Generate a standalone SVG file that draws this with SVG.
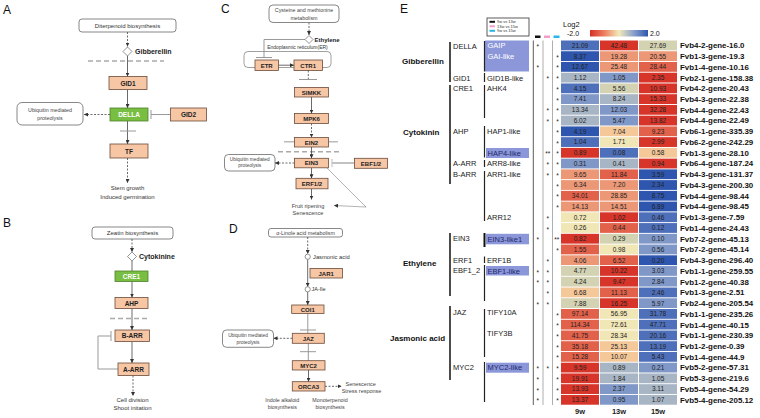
<svg xmlns="http://www.w3.org/2000/svg" width="760" height="418" viewBox="0 0 760 418">
<defs>
<marker id="ah" viewBox="0 0 6 6" refX="6" refY="3" markerWidth="4" markerHeight="4" markerUnits="userSpaceOnUse" orient="auto"><path d="M0,0 L6,3 L0,6 z" fill="#333"/></marker>
<linearGradient id="cb" x1="0" x2="1" y1="0" y2="0">
<stop offset="0" stop-color="#D62F27"/><stop offset="0.25" stop-color="#EE8060"/><stop offset="0.5" stop-color="#F2EABA"/><stop offset="0.75" stop-color="#8AA0CC"/><stop offset="1" stop-color="#2F55AD"/>
</linearGradient>
<style>
text{font-family:"Liberation Sans",Arial,sans-serif}
.pl{font-size:12px;fill:#111}
.box{fill:#F7C6A5;stroke:#6b4b3b;stroke-width:0.8}
.gbox{fill:#78BE42;stroke:#4f7f2c;stroke-width:0.8}
.rb{fill:#fff;stroke:#555;stroke-width:0.7}
.bl{font-size:6.5px;font-weight:bold;fill:#222;text-anchor:middle}
.wl{font-size:6.5px;font-weight:bold;fill:#fff;text-anchor:middle}
.sm{font-size:6px;fill:#333;text-anchor:middle}
.xs{font-size:5.3px;fill:#444;text-anchor:middle}
.hb{font-size:7px;font-weight:bold;fill:#222}
.ln{stroke:#444;stroke-width:0.8;fill:none}
.dl{stroke:#444;stroke-width:0.8;fill:none;stroke-dasharray:2,1.5}
.gy{stroke:#999;stroke-width:1;fill:none}
.gd{stroke:#aaa;stroke-width:1.6;fill:none;stroke-dasharray:5,3}
.dm{fill:#fff;stroke:#666;stroke-width:0.7}
.r3{fill:#D73529}.r2{fill:#E2614A}.r1{fill:#EC9877}.o{fill:#F4C899}.y{fill:#F1E6B6}.g{fill:#D3D2B3}.gb{fill:#A8B5C4}.lb{fill:#8098C8}.b{fill:#4E6FB9}.b2{fill:#2F56AE}
.v{font-size:6.5px;fill:#222;text-anchor:middle}
.s{font-size:6.5px;fill:#222;text-anchor:middle}
.gn{font-size:7.9px;font-weight:bold;fill:#111}
.cat{font-size:8px;font-weight:bold;fill:#111}
.l2{font-size:7.5px;fill:#222}
.l3{font-size:7.5px;fill:#222}
.hl{fill:#8C97DA}
.br{stroke:#111;stroke-width:1.5}
.br3{stroke:#222;stroke-width:1.2}
</style>
</defs>

<!-- Panel labels -->
<text class="pl" x="3" y="14">A</text>
<text class="pl" x="3" y="227">B</text>
<text class="pl" x="221" y="13">C</text>
<text class="pl" x="229" y="233">D</text>
<text class="pl" x="400" y="13">E</text>

<g id="connectors">
<!-- A -->
<line class="dl" x1="127.5" y1="32" x2="127.5" y2="46.5" marker-end="url(#ah)"/>
<line class="gd" x1="88" y1="61" x2="164" y2="61"/>
<line class="ln" x1="127.5" y1="56" x2="127.5" y2="76.5" marker-end="url(#ah)"/>
<line class="ln" x1="127.5" y1="89.5" x2="127.5" y2="108" marker-end="url(#ah)"/>
<line class="gy" x1="170.5" y1="114.5" x2="151" y2="114.5"/>
<line class="gy" x1="151" y1="110" x2="151" y2="119"/>
<line class="dl" x1="110" y1="114.5" x2="84" y2="114.5" marker-end="url(#ah)"/>
<line class="ln" x1="127.5" y1="121" x2="127.5" y2="144" marker-end="url(#ah)"/>
<line class="gy" x1="120" y1="131" x2="136" y2="131"/>
<line class="dl" x1="127.5" y1="158" x2="127.5" y2="183" marker-end="url(#ah)"/>
<!-- B -->
<line class="dl" x1="132" y1="239" x2="132" y2="252" marker-end="url(#ah)"/>
<line class="ln" x1="132" y1="261" x2="132" y2="271"/>
<line class="ln" x1="132" y1="281.5" x2="132" y2="297.5" marker-end="url(#ah)"/>
<line class="gd" x1="110" y1="318.5" x2="147" y2="318.5"/>
<line class="ln" x1="132" y1="308.5" x2="132" y2="330" marker-end="url(#ah)"/>
<line class="ln" x1="132" y1="341.5" x2="132" y2="363" marker-end="url(#ah)"/>
<polyline class="gy" points="118,369 98,369 98,336 111,336"/>
<line class="gy" x1="111" y1="331" x2="111" y2="341"/>
<line class="dl" x1="133" y1="375.5" x2="133" y2="396" marker-end="url(#ah)"/>
<!-- C -->
<line class="dl" x1="309" y1="22.5" x2="309" y2="35" marker-end="url(#ah)"/>
<polyline class="gy" points="305,39.5 264,39.5 264,57.5"/>
<line class="gy" x1="256" y1="57.5" x2="272" y2="57.5"/>
<rect x="244" y="51.5" width="87" height="16" rx="4" fill="none" stroke="#888" stroke-width="0.8"/>
<line class="ln" x1="278.5" y1="65.2" x2="294" y2="65.2" marker-end="url(#ah)"/>
<line class="dl" x1="308.3" y1="70.5" x2="308.3" y2="79.5"/>
<line class="gy" x1="299" y1="79.5" x2="317" y2="79.5"/>
<line class="ln" x1="311.5" y1="97" x2="311.5" y2="113.5" marker-end="url(#ah)"/>
<line x1="284" y1="141.8" x2="338" y2="141.8" stroke="#bbb" stroke-width="1.5"/>
<line class="dl" x1="311.5" y1="123.5" x2="311.5" y2="137.5" marker-end="url(#ah)"/>
<line class="gd" x1="278" y1="151.8" x2="342" y2="151.8"/>
<line class="ln" x1="311.5" y1="147" x2="311.5" y2="158.3" marker-end="url(#ah)"/>
<line class="dl" x1="294.5" y1="163" x2="275" y2="163" marker-end="url(#ah)"/>
<line x1="354.5" y1="163" x2="332" y2="163" stroke="#bbb" stroke-width="1.8"/>
<line x1="332" y1="159" x2="332" y2="167" stroke="#bbb" stroke-width="1"/>
<polyline points="327,168 366,207" fill="none" stroke="#666" stroke-width="0.5"/>
<line x1="366" y1="207" x2="334" y2="205.5" stroke="#666" stroke-width="0.5" marker-end="url(#ah)"/>
<line class="ln" x1="311.5" y1="167.8" x2="311.5" y2="178.3" marker-end="url(#ah)"/>
<line class="ln" x1="311.5" y1="189" x2="311.5" y2="199.5" marker-end="url(#ah)"/>
<!-- D -->
<line class="dl" x1="307.7" y1="237" x2="307.7" y2="254" marker-end="url(#ah)"/>
<line class="ln" x1="307.7" y1="259.3" x2="307.7" y2="286.7" marker-end="url(#ah)"/>
<line class="ln" x1="307.7" y1="292" x2="307.7" y2="305" marker-end="url(#ah)"/>
<line class="gy" x1="307.8" y1="313.5" x2="307.8" y2="333.3"/>
<line class="gy" x1="300" y1="330" x2="316" y2="330"/>
<line class="dl" x1="292.3" y1="338.3" x2="273.5" y2="338.3" marker-end="url(#ah)"/>
<line class="gy" x1="308.3" y1="343.3" x2="308.3" y2="360.7"/>
<line class="gy" x1="300" y1="351.7" x2="316" y2="351.7"/>
<line class="ln" x1="308.5" y1="370" x2="308.5" y2="381.7" marker-end="url(#ah)"/>
<line class="dl" x1="325" y1="386.3" x2="341.5" y2="386.3" marker-end="url(#ah)"/>
</g>

<!-- Panel A nodes -->
<g id="a-diterpenoid"><rect class="rb" x="79" y="19" width="97" height="13" rx="3"/><text class="sm" x="127.5" y="27.8">Diterpenoid biosynthesis</text></g>
<g id="a-gibberellin"><polygon class="dm" points="127.5,47 132,51.5 127.5,56 123,51.5"/><text class="hb" x="135" y="54">Gibberellin</text></g>
<g id="a-gid1"><rect class="box" x="109" y="76.5" width="38" height="13"/><text class="bl" x="128" y="85.5">GID1</text></g>
<g id="a-della"><rect class="gbox" x="110" y="108" width="38" height="13"/><text class="wl" x="129" y="117">DELLA</text></g>
<g id="a-gid2"><rect class="box" x="170.5" y="108" width="36" height="13"/><text class="bl" x="188.5" y="117">GID2</text></g>
<g id="a-ubiq"><rect class="rb" x="17" y="102.5" width="66" height="22.5" rx="5"/><text class="xs" x="50" y="112">Ubiquitin mediated</text><text class="xs" x="50" y="120">proteolysis</text></g>
<g id="a-tf"><rect class="box" x="110" y="144" width="38" height="14"/><text class="bl" x="129" y="153.5">TF</text></g>
<g id="a-out"><text class="sm" x="127.5" y="190">Stem growth</text><text class="sm" x="127.5" y="199">Induced germination</text></g>

<!-- Panel B nodes -->
<g id="b-zeatin"><rect class="rb" x="92" y="227" width="81" height="12" rx="3"/><text class="sm" x="132.5" y="235.3">Zeatin biosynthesis</text></g>
<g id="b-cytokinine"><polygon class="dm" points="132,252 136.5,256.5 132,261 127.5,256.5"/><text class="hb" x="139" y="259">Cytokinine</text></g>
<g id="b-cre1"><rect class="gbox" x="115" y="271" width="33" height="10.5"/><text class="wl" x="131.5" y="278.8">CRE1</text></g>
<g id="b-ahp"><rect class="box" x="115" y="297.5" width="33" height="11"/><text class="bl" x="131.5" y="305.5">AHP</text></g>
<g id="b-barr"><rect class="box" x="115" y="330" width="34.5" height="11.5"/><text class="bl" x="132.2" y="338.3">B-ARR</text></g>
<g id="b-aarr"><rect class="box" x="118" y="363" width="31" height="12.5"/><text class="bl" x="133.5" y="371.8">A-ARR</text></g>
<g id="b-out"><text class="sm" x="132.5" y="402">Cell division</text><text class="sm" x="132.5" y="410">Shoot initation</text></g>

<!-- Panel C nodes -->
<g id="c-cys"><rect class="rb" x="269" y="5" width="70" height="17.5" rx="4"/><text class="xs" x="304" y="12">Cysteine and methionine</text><text class="xs" x="304" y="19.5">metabolism</text></g>
<g id="c-ethylene"><polygon class="dm" points="309,35.5 313,39.5 309,43.5 305,39.5"/><text x="314.5" y="42" style="font-size:6px;font-weight:bold;fill:#222">Ethylene</text></g>
<text x="297.5" y="48.5" style="font-size:5px;fill:#333;text-anchor:middle">Endoplasmic reticulum(ER)</text>
<g id="c-etr"><rect class="box" x="255" y="60" width="23.5" height="10.5"/><text class="bl" x="266.7" y="67.8" style="font-size:6px">ETR</text></g>
<g id="c-ctr1"><rect class="box" x="294" y="60" width="28.5" height="10.5"/><text class="bl" x="308.2" y="67.8" style="font-size:6px">CTR1</text></g>
<g id="c-simkk"><rect class="box" x="294.5" y="87.5" width="34" height="9.5"/><text class="bl" x="311.5" y="94.5" style="font-size:6px">SIMKK</text></g>
<g id="c-mpk6"><rect class="box" x="294.5" y="113.5" width="34" height="10"/><text class="bl" x="311.5" y="121" style="font-size:6px">MPK6</text></g>
<g id="c-ein2"><rect class="box" x="294.5" y="137.5" width="34" height="9.5"/><text class="bl" x="311.5" y="144.5" style="font-size:6px">EIN2</text></g>
<g id="c-ein3"><rect class="box" x="294.5" y="158.3" width="34" height="9.5"/><text class="bl" x="311.5" y="165.3" style="font-size:6px">EIN3</text></g>
<g id="c-ubiq"><rect class="rb" x="224.5" y="154.5" width="50.5" height="16.5" rx="4"/><text class="xs" x="249.7" y="160.8" style="font-size:4.8px">Ubiquitin mediated</text><text class="xs" x="249.7" y="167.3" style="font-size:4.8px">proteolysis</text></g>
<g id="c-ebf"><rect class="box" x="354.5" y="158.3" width="33" height="10"/><text class="bl" x="371" y="165.5" style="font-size:6px">EBF1/2</text></g>
<g id="c-erf"><rect class="box" x="296" y="178.3" width="32" height="10.5"/><text class="bl" x="312" y="186" style="font-size:6px">ERF1/2</text></g>
<g id="c-out"><text class="xs" x="308" y="207.5" style="font-size:5.6px">Fruit ripening</text><text class="xs" x="308" y="214.5" style="font-size:5.6px">Senescence</text></g>

<!-- Panel D nodes -->
<g id="d-linole"><rect class="rb" x="268.5" y="228.5" width="74" height="8.5" rx="2.5"/><text class="xs" x="305.5" y="234.9">α-Linole acid metabolism</text></g>
<g id="d-ja"><circle class="dm" cx="307.7" cy="256.7" r="2.6"/><text x="313" y="258.8" style="font-size:5.8px;fill:#333">Jasmonic acid</text></g>
<g id="d-jar1"><rect class="box" x="310" y="268.5" width="32.5" height="9.5"/><text class="bl" x="326.2" y="275.5" style="font-size:6px">JAR1</text></g>
<g id="d-jaile"><circle class="dm" cx="307.7" cy="289.3" r="2.6"/><text x="311.5" y="291.3" style="font-size:5.5px;fill:#333">JA-Ile</text></g>
<g id="d-coi1"><rect class="box" x="291.7" y="305" width="32.3" height="8.5"/><text class="bl" x="307.8" y="311.5" style="font-size:6px">COI1</text></g>
<g id="d-jaz"><rect class="box" x="292.3" y="333.3" width="32" height="10"/><text class="bl" x="308.3" y="340.5" style="font-size:6px">JAZ</text></g>
<g id="d-ubiq"><rect class="rb" x="222.5" y="330" width="51" height="17.3" rx="4"/><text class="xs" x="248" y="336.8" style="font-size:4.8px">Ubiquitin mediated</text><text class="xs" x="248" y="343.5" style="font-size:4.8px">proteolysis</text></g>
<g id="d-myc2"><rect class="box" x="292.3" y="360.7" width="32.7" height="9.3"/><text class="bl" x="308.6" y="367.6" style="font-size:6px">MYC2</text></g>
<g id="d-orca3"><rect class="box" x="292.3" y="381.7" width="32.7" height="9.3"/><text class="bl" x="308.6" y="388.6" style="font-size:6px">ORCA3</text></g>
<g id="d-out"><text x="345.5" y="386" style="font-size:5.5px;fill:#444">Senescence</text><text x="341.7" y="393" style="font-size:5.5px;fill:#444">Stress response</text>
<text class="xs" x="282.3" y="402">Indole alkaloid</text><text class="xs" x="282.3" y="409.3">biosynthesis</text>
<text class="xs" x="330" y="402">Monoterpenoid</text><text class="xs" x="330" y="409.3">biosynthesis</text></g>

<!-- Panel E -->
<g id="e-legend">
<rect x="487" y="18" width="42" height="18" fill="#fff" stroke="#333" stroke-width="0.8"/>
<rect x="489.5" y="20.8" width="5.5" height="2" fill="#111"/><text x="497" y="23" style="font-size:4px;fill:#333">9w vs 13w</text>
<rect x="489.5" y="25.3" width="5.5" height="2" fill="#F0A0C8"/><text x="497" y="27.5" style="font-size:4px;fill:#333">13w vs 15w</text>
<rect x="489.5" y="29.8" width="5.5" height="2" fill="#29B6E8"/><text x="497" y="32" style="font-size:4px;fill:#333">9w vs 15w</text>
<rect x="535" y="35.5" width="5.5" height="2.5" fill="#111"/>
<rect x="544" y="35.5" width="6" height="2.5" fill="#F0A0C8"/>
<rect x="553.5" y="35.5" width="6" height="2.5" fill="#29B6E8"/>
<text x="563" y="27" style="font-size:7.5px;fill:#111">Log2</text>
<text x="567" y="35.8" style="font-size:7px;fill:#111">-2.0</text>
<rect x="590" y="30" width="58" height="6.5" fill="url(#cb)"/>
<text x="650" y="35.8" style="font-size:7px;fill:#111">2.0</text>
</g>

<g id="e-tree">
<text class="cat" x="402" y="64">Gibberellin</text>
<text class="cat" x="403" y="135">Cytokinin</text>
<text class="cat" x="403" y="265.5">Ethylene</text>
<text class="cat" x="390" y="341">Jasmonic acid</text>
<line class="br" x1="450" y1="42" x2="450" y2="82"/>
<line class="br" x1="450" y1="85" x2="450" y2="184"/>
<line class="br" x1="450" y1="233" x2="450" y2="296"/>
<line class="br" x1="450" y1="306" x2="450" y2="380"/>
<text class="l2" x="453" y="48.5">DELLA</text>
<text class="l2" x="453" y="80.7">GID1</text>
<text class="l2" x="453" y="91.4">CRE1</text>
<text class="l2" x="453" y="134">AHP</text>
<text class="l2" x="453" y="166.1">A-ARR</text>
<text class="l2" x="453" y="176.9">B-ARR</text>
<text class="l2" x="453" y="241.4">EIN3</text>
<text class="l2" x="453" y="262.9">ERF1</text>
<text class="l2" x="453" y="272.5">EBF1_2</text>
<text class="l2" x="453" y="314.5">JAZ</text>
<text class="l2" x="453" y="370.4">MYC2</text>
<rect class="hl" x="485" y="40.5" width="44" height="31"/>
<rect class="hl" x="486" y="148" width="43" height="10"/>
<rect class="hl" x="486" y="233.8" width="43" height="10.5"/>
<rect class="hl" x="486" y="266" width="43" height="9.5"/>
<rect class="hl" x="486" y="362.7" width="43" height="10"/>
<line class="br3" x1="484.5" y1="41" x2="484.5" y2="71.5"/>
<line class="br3" x1="484.5" y1="73" x2="484.5" y2="82"/>
<line class="br3" x1="484.5" y1="85" x2="484.5" y2="118"/>
<line class="br3" x1="484.5" y1="126" x2="484.5" y2="157.5"/>
<line class="br3" x1="484.5" y1="160" x2="484.5" y2="167"/>
<line class="br3" x1="484.5" y1="171" x2="484.5" y2="221"/>
<line x1="484.5" y1="233" x2="484.5" y2="247" stroke="#111" stroke-width="2"/>
<line class="br3" x1="484.5" y1="256.5" x2="484.5" y2="263"/>
<line class="br3" x1="484.5" y1="265" x2="484.5" y2="301"/>
<line class="br3" x1="484.5" y1="309" x2="484.5" y2="357"/>
<line class="br3" x1="484.5" y1="362" x2="484.5" y2="402"/>
<text class="l3" x="487.5" y="48.3" style="fill:#fff">GAIP</text>
<text class="l3" x="487.5" y="59.3" style="fill:#fff">GAI-like</text>
<text class="l3" x="487" y="80.7">GID1B-like</text>
<text class="l3" x="487" y="91.4">AHK4</text>
<text class="l3" x="487" y="134">HAP1-like</text>
<text class="l3" x="487.5" y="155.5" style="fill:#22286a">HAP4-like</text>
<text class="l3" x="487" y="166.1">ARR8-like</text>
<text class="l3" x="487" y="176.9">ARR1-like</text>
<text class="l3" x="487" y="219.9">ARR12</text>
<text class="l3" x="487.5" y="241.6" style="fill:#22286a">EIN3-like1</text>
<text class="l3" x="487" y="262.9">ERF1B</text>
<text class="l3" x="487.5" y="273.5" style="fill:#22286a">EBF1-like</text>
<text class="l3" x="487" y="314.5">TIFY10A</text>
<text class="l3" x="487" y="335.9">TIFY3B</text>
<text class="l3" x="487.5" y="370.4" style="fill:#22286a">MYC2-like</text>
<line x1="533.3" y1="40.5" x2="533.3" y2="405" stroke="#333" stroke-width="0.8"/>
<line x1="543" y1="40.5" x2="543" y2="405" stroke="#999" stroke-width="0.8"/>
<line x1="552.5" y1="40.5" x2="552.5" y2="405" stroke="#999" stroke-width="0.8"/>
</g>

<g id="e-heatmap">
<g transform="translate(0,40.5)"><rect x="561" width="38" height="9.8" class="b"/><rect x="600" width="38" height="9.8" class="r3"/><rect x="639" width="38" height="9.8" class="g"/><text class="v" x="580" y="7.3">21.09</text><text class="v" x="619" y="7.3">42.48</text><text class="v" x="658" y="7.3">27.69</text><text class="s" x="537.8" y="8.5">*</text><text class="gn" x="680" y="7.8">Fvb4-2-gene-16.0</text></g>
<g transform="translate(0,51.24)"><rect x="561" width="38" height="9.8" class="b2"/><rect x="600" width="38" height="9.8" class="r1"/><rect x="639" width="38" height="9.8" class="r1"/><text class="v" x="580" y="7.3">8.37</text><text class="v" x="619" y="7.3">19.28</text><text class="v" x="658" y="7.3">20.55</text><text class="s" x="557.5" y="8.5">*</text><text class="gn" x="680" y="7.8">Fvb1-3-gene-19.3</text></g>
<g transform="translate(0,61.98)"><rect x="561" width="38" height="9.8" class="b2"/><rect x="600" width="38" height="9.8" class="r1"/><rect x="639" width="38" height="9.8" class="r2"/><text class="v" x="580" y="7.3">12.67</text><text class="v" x="619" y="7.3">25.48</text><text class="v" x="658" y="7.3">28.44</text><text class="s" x="537.8" y="8.5">*</text><text class="s" x="557.5" y="8.5">*</text><text class="gn" x="680" y="7.8">Fvb1-4-gene-10.16</text></g>
<g transform="translate(0,72.72)"><rect x="561" width="38" height="9.8" class="gb"/><rect x="600" width="38" height="9.8" class="lb"/><rect x="639" width="38" height="9.8" class="r3"/><text class="v" x="580" y="7.3">1.12</text><text class="v" x="619" y="7.3">1.05</text><text class="v" x="658" y="7.3">2.35</text><text class="s" x="547.8" y="8.5">*</text><text class="s" x="557.5" y="8.5">*</text><text class="gn" x="680" y="7.8">Fvb2-1-gene-158.38</text></g>
<g transform="translate(0,83.46)"><rect x="561" width="38" height="9.8" class="b"/><rect x="600" width="38" height="9.8" class="g"/><rect x="639" width="38" height="9.8" class="r3"/><text class="v" x="580" y="7.3">4.15</text><text class="v" x="619" y="7.3">5.56</text><text class="v" x="658" y="7.3">10.93</text><text class="s" x="557.5" y="8.5">*</text><text class="gn" x="680" y="7.8">Fvb4-2-gene-20.43</text></g>
<g transform="translate(0,94.2)"><rect x="561" width="38" height="9.8" class="lb"/><rect x="600" width="38" height="9.8" class="gb"/><rect x="639" width="38" height="9.8" class="r3"/><text class="v" x="580" y="7.3">7.41</text><text class="v" x="619" y="7.3">8.24</text><text class="v" x="658" y="7.3">15.33</text><text class="s" x="557.5" y="8.5">*</text><text class="gn" x="680" y="7.8">Fvb4-3-gene-22.38</text></g>
<g transform="translate(0,104.94)"><rect x="561" width="38" height="9.8" class="gb"/><rect x="600" width="38" height="9.8" class="lb"/><rect x="639" width="38" height="9.8" class="r3"/><text class="v" x="580" y="7.3">13.34</text><text class="v" x="619" y="7.3">12.03</text><text class="v" x="658" y="7.3">32.28</text><text class="s" x="547.8" y="8.5">*</text><text class="s" x="557.5" y="8.5">*</text><text class="gn" x="680" y="7.8">Fvb4-4-gene-22.43</text></g>
<g transform="translate(0,115.68)"><rect x="561" width="38" height="9.8" class="gb"/><rect x="600" width="38" height="9.8" class="lb"/><rect x="639" width="38" height="9.8" class="r3"/><text class="v" x="580" y="7.3">6.02</text><text class="v" x="619" y="7.3">5.47</text><text class="v" x="658" y="7.3">13.82</text><text class="s" x="547.8" y="8.5">*</text><text class="s" x="557.5" y="8.5">*</text><text class="gn" x="680" y="7.8">Fvb4-4-gene-22.49</text></g>
<g transform="translate(0,126.42)"><rect x="561" width="38" height="9.8" class="b2"/><rect x="600" width="38" height="9.8" class="o"/><rect x="639" width="38" height="9.8" class="r2"/><text class="v" x="580" y="7.3">4.19</text><text class="v" x="619" y="7.3">7.04</text><text class="v" x="658" y="7.3">9.23</text><text class="s" x="557.5" y="8.5">*</text><text class="gn" x="680" y="7.8">Fvb6-1-gene-335.39</text></g>
<g transform="translate(0,137.16)"><rect x="561" width="38" height="9.8" class="b"/><rect x="600" width="38" height="9.8" class="y"/><rect x="639" width="38" height="9.8" class="r3"/><text class="v" x="580" y="7.3">1.04</text><text class="v" x="619" y="7.3">1.71</text><text class="v" x="658" y="7.3">2.99</text><text class="s" x="557.5" y="8.5">*</text><text class="gn" x="680" y="7.8">Fvb6-2-gene-242.29</text></g>
<g transform="translate(0,147.9)"><rect x="561" width="38" height="9.8" class="r3"/><rect x="600" width="38" height="9.8" class="b"/><rect x="639" width="38" height="9.8" class="o"/><text class="v" x="580" y="7.3">0.89</text><text class="v" x="619" y="7.3">0.08</text><text class="v" x="658" y="7.3">0.58</text><text class="s" x="547.8" y="8.5">**</text><text class="s" x="557.5" y="8.5">*</text><text class="gn" x="680" y="7.8">Fvb1-3-gene-28.10</text></g>
<g transform="translate(0,158.64)"><rect x="561" width="38" height="9.8" class="lb"/><rect x="600" width="38" height="9.8" class="gb"/><rect x="639" width="38" height="9.8" class="r3"/><text class="v" x="580" y="7.3">0.31</text><text class="v" x="619" y="7.3">0.41</text><text class="v" x="658" y="7.3">0.94</text><text class="s" x="547.8" y="8.5">*</text><text class="s" x="557.5" y="8.5">*</text><text class="gn" x="680" y="7.8">Fvb6-4-gene-187.24</text></g>
<g transform="translate(0,169.38)"><rect x="561" width="38" height="9.8" class="r1"/><rect x="600" width="38" height="9.8" class="r2"/><rect x="639" width="38" height="9.8" class="b2"/><text class="v" x="580" y="7.3">9.65</text><text class="v" x="619" y="7.3">11.84</text><text class="v" x="658" y="7.3">3.59</text><text class="s" x="547.8" y="8.5">*</text><text class="s" x="557.5" y="8.5">*</text><text class="gn" x="680" y="7.8">Fvb4-3-gene-131.37</text></g>
<g transform="translate(0,180.12)"><rect x="561" width="38" height="9.8" class="r1"/><rect x="600" width="38" height="9.8" class="r1"/><rect x="639" width="38" height="9.8" class="b2"/><text class="v" x="580" y="7.3">6.34</text><text class="v" x="619" y="7.3">7.20</text><text class="v" x="658" y="7.3">2.34</text><text class="s" x="557.5" y="8.5">*</text><text class="gn" x="680" y="7.8">Fvb4-3-gene-200.30</text></g>
<g transform="translate(0,190.86)"><rect x="561" width="38" height="9.8" class="r2"/><rect x="600" width="38" height="9.8" class="r1"/><rect x="639" width="38" height="9.8" class="b2"/><text class="v" x="580" y="7.3">34.01</text><text class="v" x="619" y="7.3">28.85</text><text class="v" x="658" y="7.3">8.75</text><text class="s" x="557.5" y="8.5">*</text><text class="gn" x="680" y="7.8">Fvb4-4-gene-98.44</text></g>
<g transform="translate(0,201.6)"><rect x="561" width="38" height="9.8" class="r1"/><rect x="600" width="38" height="9.8" class="r1"/><rect x="639" width="38" height="9.8" class="b2"/><text class="v" x="580" y="7.3">14.13</text><text class="v" x="619" y="7.3">14.51</text><text class="v" x="658" y="7.3">6.89</text><text class="s" x="557.5" y="8.5">*</text><text class="gn" x="680" y="7.8">Fvb4-4-gene-98.45</text></g>
<g transform="translate(0,212.34)"><rect x="561" width="38" height="9.8" class="y"/><rect x="600" width="38" height="9.8" class="r3"/><rect x="639" width="38" height="9.8" class="b"/><text class="v" x="580" y="7.3">0.72</text><text class="v" x="619" y="7.3">1.02</text><text class="v" x="658" y="7.3">0.46</text><text class="s" x="547.8" y="8.5">*</text><text class="gn" x="680" y="7.8">Fvb1-3-gene-7.59</text></g>
<g transform="translate(0,223.08)"><rect x="561" width="38" height="9.8" class="y"/><rect x="600" width="38" height="9.8" class="r2"/><rect x="639" width="38" height="9.8" class="b"/><text class="v" x="580" y="7.3">0.26</text><text class="v" x="619" y="7.3">0.44</text><text class="v" x="658" y="7.3">0.12</text><text class="s" x="547.8" y="8.5">*</text><text class="gn" x="680" y="7.8">Fvb1-4-gene-24.43</text></g>
<g transform="translate(0,233.82)"><rect x="561" width="38" height="9.8" class="r3"/><rect x="600" width="38" height="9.8" class="g"/><rect x="639" width="38" height="9.8" class="lb"/><text class="v" x="580" y="7.3">0.82</text><text class="v" x="619" y="7.3">0.29</text><text class="v" x="658" y="7.3">0.10</text><text class="s" x="537.8" y="8.5">*</text><text class="s" x="556.8" y="8.5">**</text><text class="gn" x="680" y="7.8">Fvb7-2-gene-45.13</text></g>
<g transform="translate(0,244.56)"><rect x="561" width="38" height="9.8" class="r2"/><rect x="600" width="38" height="9.8" class="y"/><rect x="639" width="38" height="9.8" class="lb"/><text class="v" x="580" y="7.3">1.55</text><text class="v" x="619" y="7.3">0.98</text><text class="v" x="658" y="7.3">0.56</text><text class="s" x="557.5" y="8.5">*</text><text class="gn" x="680" y="7.8">Fvb7-2-gene-45.14</text></g>
<g transform="translate(0,255.3)"><rect x="561" width="38" height="9.8" class="r1"/><rect x="600" width="38" height="9.8" class="r2"/><rect x="639" width="38" height="9.8" class="b2"/><text class="v" x="580" y="7.3">4.06</text><text class="v" x="619" y="7.3">6.52</text><text class="v" x="658" y="7.3">0.20</text><text class="s" x="547.8" y="8.5">*</text><text class="gn" x="680" y="7.8">Fvb4-3-gene-296.40</text></g>
<g transform="translate(0,266.04)"><rect x="561" width="38" height="9.8" class="g"/><rect x="600" width="38" height="9.8" class="r3"/><rect x="639" width="38" height="9.8" class="lb"/><text class="v" x="580" y="7.3">4.77</text><text class="v" x="619" y="7.3">10.22</text><text class="v" x="658" y="7.3">3.03</text><text class="s" x="537.8" y="8.5">*</text><text class="s" x="547.8" y="8.5">*</text><text class="gn" x="680" y="7.8">Fvb1-1-gene-259.55</text></g>
<g transform="translate(0,276.78)"><rect x="561" width="38" height="9.8" class="g"/><rect x="600" width="38" height="9.8" class="r3"/><rect x="639" width="38" height="9.8" class="lb"/><text class="v" x="580" y="7.3">4.24</text><text class="v" x="619" y="7.3">9.47</text><text class="v" x="658" y="7.3">2.84</text><text class="s" x="537.8" y="8.5">*</text><text class="s" x="547.8" y="8.5">*</text><text class="gn" x="680" y="7.8">Fvb1-2-gene-40.38</text></g>
<g transform="translate(0,287.52)"><rect x="561" width="38" height="9.8" class="o"/><rect x="600" width="38" height="9.8" class="r2"/><rect x="639" width="38" height="9.8" class="b"/><text class="v" x="580" y="7.3">6.68</text><text class="v" x="619" y="7.3">11.13</text><text class="v" x="658" y="7.3">2.46</text><text class="s" x="547.8" y="8.5">*</text><text class="gn" x="680" y="7.8">Fvb1-3-gene-2.51</text></g>
<g transform="translate(0,298.26)"><rect x="561" width="38" height="9.8" class="g"/><rect x="600" width="38" height="9.8" class="r3"/><rect x="639" width="38" height="9.8" class="lb"/><text class="v" x="580" y="7.3">7.88</text><text class="v" x="619" y="7.3">16.25</text><text class="v" x="658" y="7.3">5.97</text><text class="s" x="537.8" y="8.5">*</text><text class="s" x="547.8" y="8.5">*</text><text class="gn" x="680" y="7.8">Fvb2-4-gene-205.54</text></g>
<g transform="translate(0,309)"><rect x="561" width="38" height="9.8" class="r2"/><rect x="600" width="38" height="9.8" class="y"/><rect x="639" width="38" height="9.8" class="b"/><text class="v" x="580" y="7.3">97.14</text><text class="v" x="619" y="7.3">56.95</text><text class="v" x="658" y="7.3">31.78</text><text class="s" x="557.5" y="8.5">*</text><text class="gn" x="680" y="7.8">Fvb1-1-gene-235.26</text></g>
<g transform="translate(0,319.74)"><rect x="561" width="38" height="9.8" class="r2"/><rect x="600" width="38" height="9.8" class="y"/><rect x="639" width="38" height="9.8" class="b"/><text class="v" x="580" y="7.3">114.34</text><text class="v" x="619" y="7.3">72.61</text><text class="v" x="658" y="7.3">47.71</text><text class="s" x="557.5" y="8.5">*</text><text class="gn" x="680" y="7.8">Fvb1-4-gene-40.15</text></g>
<g transform="translate(0,330.48)"><rect x="561" width="38" height="9.8" class="r2"/><rect x="600" width="38" height="9.8" class="y"/><rect x="639" width="38" height="9.8" class="b"/><text class="v" x="580" y="7.3">41.75</text><text class="v" x="619" y="7.3">28.34</text><text class="v" x="658" y="7.3">20.16</text><text class="s" x="557.5" y="8.5">*</text><text class="gn" x="680" y="7.8">Fvb1-1-gene-230.39</text></g>
<g transform="translate(0,341.22)"><rect x="561" width="38" height="9.8" class="r2"/><rect x="600" width="38" height="9.8" class="o"/><rect x="639" width="38" height="9.8" class="b"/><text class="v" x="580" y="7.3">35.18</text><text class="v" x="619" y="7.3">25.13</text><text class="v" x="658" y="7.3">13.19</text><text class="s" x="557.5" y="8.5">*</text><text class="gn" x="680" y="7.8">Fvb1-2-gene-0.39</text></g>
<g transform="translate(0,351.96)"><rect x="561" width="38" height="9.8" class="r2"/><rect x="600" width="38" height="9.8" class="o"/><rect x="639" width="38" height="9.8" class="b"/><text class="v" x="580" y="7.3">15.28</text><text class="v" x="619" y="7.3">10.07</text><text class="v" x="658" y="7.3">5.43</text><text class="s" x="557.5" y="8.5">*</text><text class="gn" x="680" y="7.8">Fvb1-4-gene-44.9</text></g>
<g transform="translate(0,362.7)"><rect x="561" width="38" height="9.8" class="r3"/><rect x="600" width="38" height="9.8" class="gb"/><rect x="639" width="38" height="9.8" class="lb"/><text class="v" x="580" y="7.3">9.59</text><text class="v" x="619" y="7.3">0.89</text><text class="v" x="658" y="7.3">0.21</text><text class="s" x="537.8" y="8.5">*</text><text class="s" x="547.8" y="8.5">*</text><text class="s" x="557.5" y="8.5">*</text><text class="gn" x="680" y="7.8">Fvb5-2-gene-57.31</text></g>
<g transform="translate(0,373.44)"><rect x="561" width="38" height="9.8" class="r3"/><rect x="600" width="38" height="9.8" class="gb"/><rect x="639" width="38" height="9.8" class="gb"/><text class="v" x="580" y="7.3">19.91</text><text class="v" x="619" y="7.3">1.84</text><text class="v" x="658" y="7.3">1.05</text><text class="s" x="537.8" y="8.5">*</text><text class="s" x="557.5" y="8.5">*</text><text class="gn" x="680" y="7.8">Fvb5-3-gene-219.6</text></g>
<g transform="translate(0,384.18)"><rect x="561" width="38" height="9.8" class="r3"/><rect x="600" width="38" height="9.8" class="lb"/><rect x="639" width="38" height="9.8" class="gb"/><text class="v" x="580" y="7.3">13.93</text><text class="v" x="619" y="7.3">2.37</text><text class="v" x="658" y="7.3">3.11</text><text class="s" x="537.8" y="8.5">*</text><text class="s" x="557.5" y="8.5">*</text><text class="gn" x="680" y="7.8">Fvb5-4-gene-54.29</text></g>
<g transform="translate(0,394.92)"><rect x="561" width="38" height="9.8" class="r3"/><rect x="600" width="38" height="9.8" class="lb"/><rect x="639" width="38" height="9.8" class="gb"/><text class="v" x="580" y="7.3">13.37</text><text class="v" x="619" y="7.3">0.95</text><text class="v" x="658" y="7.3">1.07</text><text class="s" x="537.8" y="8.5">*</text><text class="s" x="557.5" y="8.5">*</text><text class="gn" x="680" y="7.8">Fvb5-4-gene-205.12</text></g>
<text x="580" y="414" style="font-size:7.5px;font-weight:bold;fill:#222;text-anchor:middle">9w</text>
<text x="619" y="414" style="font-size:7.5px;font-weight:bold;fill:#222;text-anchor:middle">13w</text>
<text x="658" y="414" style="font-size:7.5px;font-weight:bold;fill:#222;text-anchor:middle">15w</text>
</g>
</svg>
